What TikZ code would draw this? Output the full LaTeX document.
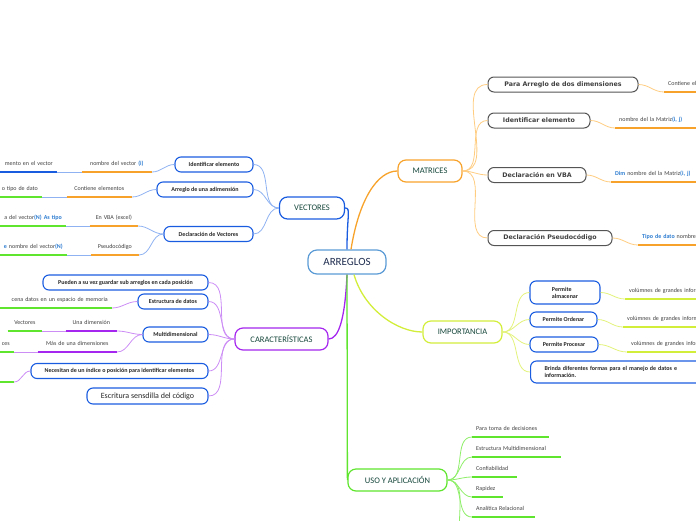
\documentclass[tikz,border=0pt]{standalone}
\usepackage{fontspec}
\setmainfont{Carlito}
\newfontfamily\verdana{DejaVu Sans}
\usepackage{xcolor}
\definecolor{celeste}{HTML}{5B9BD5}
\definecolor{marino}{HTML}{1F2D4F}
\definecolor{verdetexto}{HTML}{15463A}
\definecolor{azulcaja}{HTML}{1A5CE0}
\definecolor{azulclaro}{HTML}{8FB2F2}
\definecolor{azultexto}{HTML}{2B7BD0}
\definecolor{naranja}{HTML}{F7A32B}
\definecolor{naranjaclaro}{HTML}{FFCC80}
\definecolor{morado}{HTML}{A526EE}
\definecolor{moradoclaro}{HTML}{CC8DF5}
\definecolor{lima}{HTML}{D3EE3A}
\definecolor{limaclaro}{HTML}{E2F27A}
\definecolor{verde}{HTML}{5FE52E}
\definecolor{verdeclaro}{HTML}{8FEE6A}
\definecolor{gris}{HTML}{555555}
\usetikzlibrary{positioning}

\begin{document}
\begin{tikzpicture}[x=1pt, y=-1pt,
  raiz/.style={draw=celeste, line width=1.2pt, rounded corners=9pt, minimum width=78pt, minimum height=24pt, text=marino, font=\fontsize{11}{13}\selectfont},
  tema/.style={draw=#1, line width=1.2pt, rounded corners=8pt, minimum height=22pt, text=verdetexto, font=\fontsize{8.5}{10}\selectfont},
  caja/.style={draw=azulcaja, line width=1.1pt, rounded corners=6pt, minimum height=15pt, inner sep=2pt, text=black!85, font=\fontsize{6}{7}\selectfont\bfseries},
  cajagris/.style={draw=gris, line width=1pt, rounded corners=6pt, minimum height=15pt, inner sep=2pt, text=black!75, font=\verdana\fontsize{6.3}{7}\selectfont\bfseries},
  hoja/.style={inner xsep=4pt, inner ysep=3pt, text depth=3pt, text=black!75, font=\fontsize{6}{7}\selectfont},
  sub/.style={line width=1.8pt},
  con/.style={line width=.8pt},
  rama/.style={line width=1.3pt}]
\useasboundingbox (0,0) rectangle (696,520);

% Nodo central y temas
\node[raiz] (arr) at (347,262) {ARREGLOS};
\node[tema=azulcaja, minimum width=65pt] (vec) at (312,208) {VECTORES};
\node[tema=morado, minimum width=93pt] (cara) at (281.5,339) {CARACTERÍSTICAS};
\node[tema=naranja, minimum width=64pt] (mat) at (430,171) {MATRICES};
\node[tema=lima, minimum width=79pt] (imp) at (462.5,332) {IMPORTANCIA};
\node[tema=verde, minimum width=99pt] (uso) at (397.5,480) {USO Y APLICACIÓN};

% Vectores
\node[caja, minimum width=78pt] (v1) at (214,164.5) {Identificar elemento};
\node[caja, minimum width=96pt] (v2) at (205,189.5) {Arreglo de una adimensión};
\node[caja, minimum width=89pt] (v3) at (208.5,234) {Declaración de Vectores};
\node[hoja, anchor=south east, text width=62pt, align=center] (v1a) at (152,172) {nombre del vector \textcolor{azultexto}{\textbf{(i)}}};
\node[hoja, anchor=south east, text width=72pt, align=right] (v1b) at (57,172) {mento en el vector};
\node[hoja, anchor=south east, text width=57pt, align=center] (v2a) at (132,197) {Contiene elementos};
\node[hoja, anchor=south east, text width=52pt, align=right] (v2b) at (42,197) {o tipo de dato};
\node[hoja, anchor=south east, text width=40pt, align=center] (v3a) at (138,226) {En VBA (excel)};
\node[hoja, anchor=south east, text width=72pt, align=right] (v3b) at (66,226) {a del vector\textcolor{azultexto}{\textbf{(N) As tipo}}};
\node[hoja, anchor=south east, text width=40pt, align=center] (v3c) at (139,255) {Pseudocódigo};
\node[hoja, anchor=south east, text width=72pt, align=right] (v3d) at (67,255) {\textcolor{azultexto}{\textbf{e}} nombre del vector\textcolor{azultexto}{\textbf{(N)}}};

% Caracteristicas
\node[caja, minimum width=165pt] (c1) at (125.5,282.5) {Pueden a su vez guardar sub arreglos en cada posición};
\node[caja, minimum width=70pt] (c2) at (173,301.5) {Estructura de datos};
\node[caja, minimum width=65pt] (c3) at (175.5,334.5) {Multidimensional};
\node[caja, minimum width=177pt] (c4) at (119.5,371) {Necesitan de un índice o posición para identificar elementos};
\node[caja, minimum width=121pt, minimum height=16pt, font=\fontsize{8}{9}\selectfont] (c5) at (147.5,396) {Escritura sensdilla del código};
\node[hoja, anchor=south east, text width=142pt, align=right] (c2a) at (112,308) {cena datos en un espacio de memoria};
\node[hoja, anchor=south east, text width=43pt, align=center] (c3a) at (117,331) {Una dimensión};
\node[hoja, anchor=south east, text width=26pt, align=center] (c3b) at (42,331) {Vectores};
\node[hoja, anchor=south east, text width=71pt, align=center] (c3c) at (117,352) {Más de una dimensiones};
\node[hoja, anchor=south east, text width=32pt, align=right] (c3d) at (14,352) {ces};
\node[hoja, anchor=south east, text width=32pt, align=right] (c4a) at (14,382) {};

% Matrices
\node[cajagris, minimum width=150pt] (m1) at (563,84.5) {Para Arreglo de dos dimensiones};
\node[cajagris, minimum width=102pt] (m2) at (539,120.5) {Identificar elemento};
\node[cajagris, minimum width=98pt] (m3) at (537,175) {Declaración en VBA};
\node[cajagris, minimum width=124pt] (m4) at (550,238) {Declaración Pseudocódigo};
\node[hoja, anchor=south west, text width=72pt, align=left] (m1a) at (664,92) {Contiene elementos};
\node[hoja, anchor=south west, text width=92pt, align=left] (m2a) at (615,128) {nombre del la Matriz\textcolor{azultexto}{\textbf{(i, j)}}};
\node[hoja, anchor=south west, text width=92pt, align=left] (m3a) at (611,182) {\textcolor{azultexto}{\textbf{Dim}} nombre del la Matriz\textcolor{azultexto}{\textbf{(i, j)}}};
\node[hoja, anchor=south west, text width=72pt, align=left] (m4a) at (638,245) {\textcolor{azultexto}{\textbf{Tipo de dato}} nombre};

% Importancia
\node[caja, minimum width=70pt, minimum height=23pt, align=left] (i1) at (565,292.5) {Permite\\almacenar};
\node[caja, minimum width=67pt] (i2) at (563.5,319.5) {Permite Ordenar};
\node[caja, minimum width=68pt] (i3) at (564,344.5) {Permite Procesar};
\node[caja, minimum height=22pt, inner xsep=14pt, text width=156pt, align=left, anchor=west] (i4) at (530,372) {Brinda diferentes formas para el manejo de datos e\\información.};
\node[hoja, anchor=south west, text width=92pt, align=left] (i1a) at (625,299) {volúmnes de grandes información};
\node[hoja, anchor=south west, text width=92pt, align=left] (i2a) at (623,327) {volúmnes de grandes información};
\node[hoja, anchor=south west, text width=92pt, align=left] (i3a) at (627,352) {volúmnes de grandes información};

% Uso y aplicacion
\node[hoja, anchor=south west, text width=69pt, align=left] (u1) at (472,437) {Para toma de decisiones};
\node[hoja, anchor=south west, text width=81pt, align=left] (u2) at (472,457) {Estructura Multidimensional};
\node[hoja, anchor=south west, text width=37pt, align=left] (u3) at (472,477) {Confiabilidad};
\node[hoja, anchor=south west, text width=23pt, align=left] (u4) at (472,497) {Rapidez};
\node[hoja, anchor=south west, text width=55pt, align=left] (u5) at (472,517) {Analítica Relacional};
\coordinate (u6) at (472,545);

% Subrayados
\foreach \h/\c in {v1a/naranja, v1b/azulcaja, v2a/naranja, v2b/verde, v3a/naranja, v3b/verde, v3c/naranja, v3d/verde,
  c2a/verde, c3a/morado, c3b/verde, c3c/morado, c3d/verde, c4a/verde,
  m1a/naranja, m2a/naranja, m3a/naranja, m4a/naranja, i1a/lima, i2a/lima, i3a/lima,
  u1/verde, u2/verde, u3/verde, u4/verde, u5/verde}
  \draw[sub, \c] (\h.south west) -- (\h.south east);

% Ramas principales
\draw[rama, azulcaja] (arr.north) .. controls +(0,-35) and +(6,0) .. (vec.east);
\draw[rama, naranja] ([xshift=4pt]arr.north) .. controls +(8,-50) and +(-20,0) .. (mat.west);
\draw[rama, morado] (arr.south) .. controls +(-2,45) and +(10,0) .. (cara.east);
\draw[rama, lima] ([xshift=7pt]arr.south) .. controls +(10,35) and +(-25,0) .. (imp.west);
\draw[rama, verde] (arr.south) -- (uso.west);

% Conectores
\foreach \a/\b in {v1/v1a, v3/v3a, v3/v3c} \draw[con, azulclaro] (\a.west) to[out=180,in=0] (\b.south east);
\foreach \b in {v1, v2, v3} \draw[con, azulclaro] (vec.west) to[out=180,in=0] (\b.east);
\draw[con, azulclaro] (v2.west) to[out=180,in=0] (v2a.south east);
\foreach \a/\b in {v1a/v1b, v2a/v2b, v3a/v3b, v3c/v3d} \draw[con, azulclaro] (\a.south west) -- (\b.south east);
\foreach \b in {c1, c2, c3, c4, c5} \draw[con, moradoclaro] (cara.west) to[out=180,in=0] (\b.east);
\foreach \a/\b in {c2/c2a, c3/c3a, c3/c3c, c4/c4a} \draw[con, moradoclaro] (\a.west) to[out=180,in=0] (\b.south east);
\foreach \a/\b in {c3a/c3b, c3c/c3d} \draw[con, moradoclaro] (\a.south west) -- (\b.south east);
\foreach \b in {m1, m2, m3, m4} \draw[con, naranjaclaro] (mat.east) to[out=0,in=180] (\b.west);
\foreach \a/\b in {m1/m1a, m2/m2a, m3/m3a, m4/m4a} \draw[con, naranjaclaro] (\a.east) to[out=0,in=180] (\b.south west);
\foreach \b in {i1, i2, i3, i4} \draw[con, limaclaro] (imp.east) to[out=0,in=180] (\b.west);
\foreach \a/\b in {i1/i1a, i2/i2a, i3/i3a} \draw[con, limaclaro] (\a.east) to[out=0,in=180] (\b.south west);
\foreach \b in {u1, u2, u3, u4, u5} \draw[con, verdeclaro] (uso.east) to[out=0,in=180] (\b.south west);
\draw[con, verdeclaro] (uso.east) to[out=0,in=180] (u6);
\end{tikzpicture}
\end{document}
